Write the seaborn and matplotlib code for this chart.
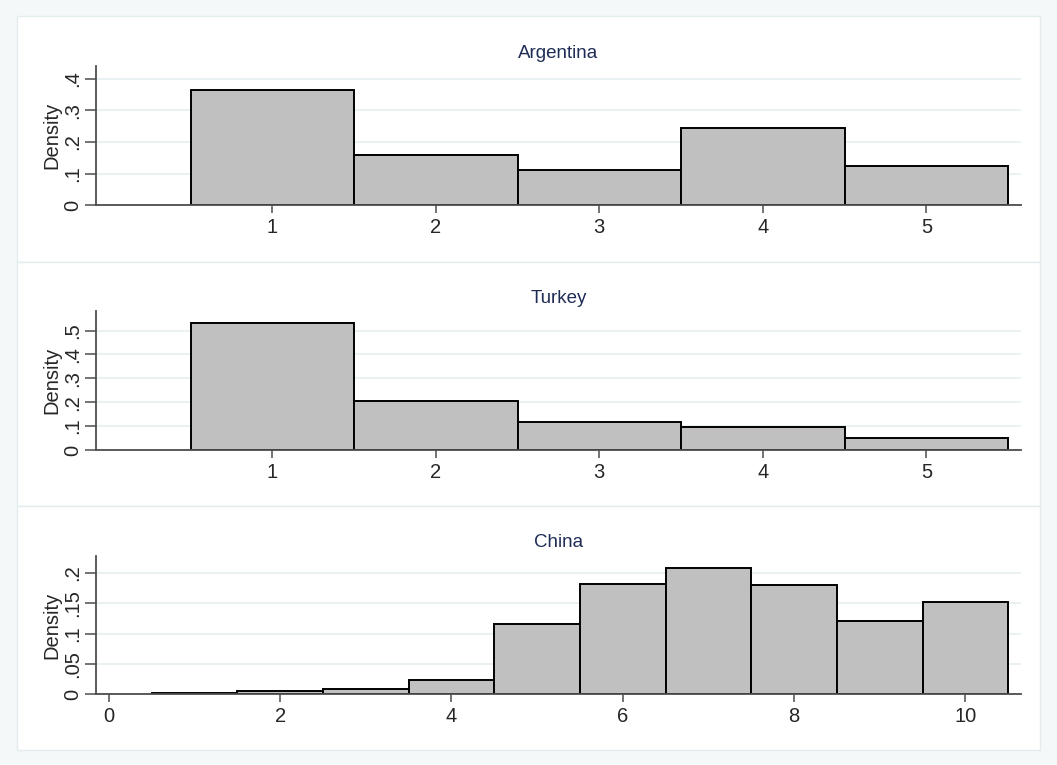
import numpy as np
import pandas as pd
import matplotlib
matplotlib.use("Agg")
import matplotlib.pyplot as plt
import seaborn as sns
from matplotlib.patches import Rectangle

# ---------------- data ----------------
countries = ["Argentina", "Turkey", "China"]

arg_values = [1, 2, 3, 4, 5]
arg_density = [0.363, 0.158, 0.110, 0.244, 0.125]

tur_values = [1, 2, 3, 4, 5]
tur_density = [0.532, 0.206, 0.116, 0.096, 0.050]

chn_values = [1, 2, 3, 4, 5, 6, 7, 8, 9, 10]
chn_density = [0.002, 0.006, 0.009, 0.024, 0.116, 0.182, 0.208, 0.180, 0.121, 0.152]

arg_yticks = [0, 0.1, 0.2, 0.3, 0.4]
arg_yticklabels = ["0", ".1", ".2", ".3", ".4"]
tur_yticks = [0, 0.1, 0.2, 0.3, 0.4, 0.5]
tur_yticklabels = ["0", ".1", ".2", ".3", ".4", ".5"]
chn_yticks = [0, 0.05, 0.1, 0.15, 0.2]
chn_yticklabels = ["0", ".05", ".1", ".15", ".2"]

arg_xticks = [1, 2, 3, 4, 5]
tur_xticks = [1, 2, 3, 4, 5]
chn_xticks = [0, 2, 4, 6, 8, 10]

# ---------------- style ----------------
sns.set_theme(style="white")
plt.rcParams["font.family"] = ["Liberation Sans", "DejaVu Sans"]

W, H = 1057, 765
fig = plt.figure(figsize=(W / 100, H / 100), dpi=100)
fig.patch.set_facecolor("#f5f8f9")

def fx(px):
    return px / W

def fy(py):
    return 1 - py / H

# panel boxes (pixel coords: top, bottom)
panel_boxes = [(16, 262), (262, 506), (506, 750)]
for top, bot in panel_boxes:
    fig.patches.append(Rectangle((fx(17), fy(bot)), fx(1040) - fx(17), (bot - top) / H,
                                 transform=fig.transFigure, facecolor="white",
                                 edgecolor="#e3ecee", linewidth=1.0, zorder=-10))

# axes (pixel coords: top, bottom)
axes_px = [(66, 205.3), (311, 450), (555.7, 694.3)]
ylims = [0.44, 0.582, 0.228]
xlims = [(-0.078, 5.579), (-0.078, 5.579), (-0.15, 10.65)]

panels = [
    (arg_values, arg_density, arg_yticks, arg_yticklabels, arg_xticks),
    (tur_values, tur_density, tur_yticks, tur_yticklabels, tur_xticks),
    (chn_values, chn_density, chn_yticks, chn_yticklabels, chn_xticks),
]

axis_color = "#4d4d4d"
fs = 14.5
for i, (vals, dens, yt, ytl, xt) in enumerate(panels):
    top, bot = axes_px[i]
    ax = fig.add_axes([fx(96), fy(bot), fx(1021) - fx(96), (bot - top) / H])
    ax.set_facecolor("white")
    ax.patch.set_alpha(0)
    df = pd.DataFrame({"value": vals, "density": dens})
    sns.histplot(data=df, x="value", weights="density", discrete=True, stat="count",
                 color="#c0c0c0", edgecolor="black", linewidth=1.4, alpha=1, ax=ax,
                 zorder=3)
    ax.set_xlim(*xlims[i])
    ax.set_ylim(0, ylims[i])
    ax.set_yticks(yt)
    ax.set_yticklabels(ytl, rotation=90, va="center", fontsize=fs)
    ax.set_xticks(xt)
    ax.set_xticklabels([str(v) for v in xt], fontsize=fs)
    ax.yaxis.grid(True, color="#e8f0f2", linewidth=1.3)
    ax.xaxis.grid(False)
    ax.set_axisbelow(True)
    for s in ["top", "right"]:
        ax.spines[s].set_visible(False)
    for s in ["left", "bottom"]:
        ax.spines[s].set_color(axis_color)
        ax.spines[s].set_linewidth(1.3)
        ax.spines[s].set_zorder(4)
    ax.tick_params(axis="y", length=8, width=1.1, color=axis_color, pad=2, left=True)
    ax.tick_params(axis="x", length=6, width=1.1, color=axis_color, pad=3, bottom=True)
    ax.set_ylabel("Density", fontsize=fs, labelpad=1)
    ax.set_xlabel("")
    ax.set_title(countries[i], fontsize=13.5, color="#1f2d55", pad=6)

fig.savefig("out.png", dpi=100, facecolor=fig.get_facecolor())
